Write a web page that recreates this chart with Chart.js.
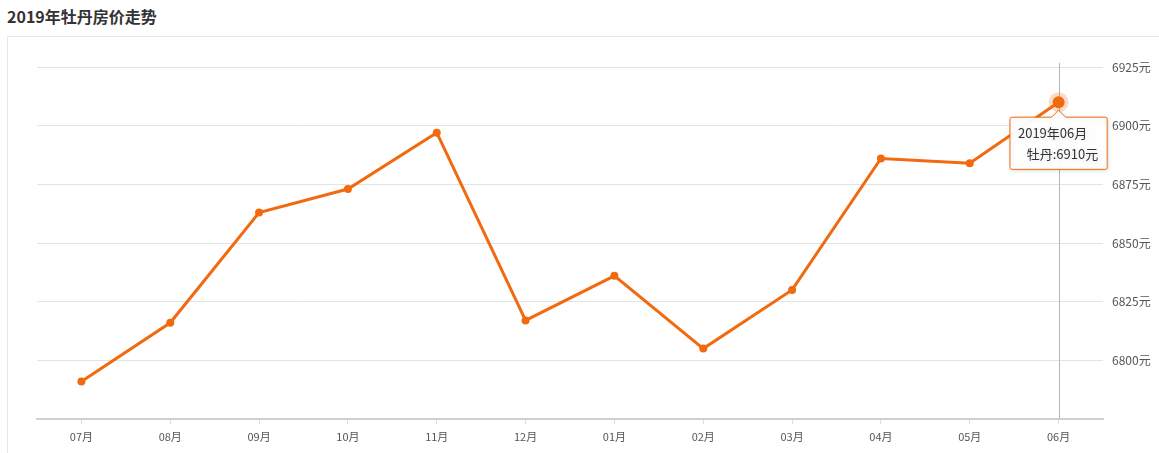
<!DOCTYPE html>
<html>
<head>
<meta charset="utf-8">
<script src="https://cdn.jsdelivr.net/npm/chart.js@4/dist/chart.umd.min.js"></script>
<style>
  html,body{margin:0;padding:0;background:#fff;width:1159px;height:453px;overflow:hidden;}
  #title{position:absolute;left:7px;top:4px;font:bold 16px "Noto Sans CJK SC","Noto Sans",sans-serif;color:#333;}
  #box{position:absolute;left:7px;top:36px;width:1152px;height:417px;border-left:1px solid #e6e6e6;border-top:1px solid #e6e6e6;box-sizing:border-box;}
  #wrap{position:absolute;left:0;top:0;width:1159px;height:453px;}
</style>
</head>
<body>
<div id="title">2019年牡丹房价走势</div>
<div id="box"></div>
<div id="wrap"><canvas id="c" width="1159" height="453"></canvas></div>
<script>
const months = ['07月','08月','09月','10月','11月','12月','01月','02月','03月','04月','05月','06月'];
const fullDates = ['2018年07月','2018年08月','2018年09月','2018年10月','2018年11月','2018年12月','2019年01月','2019年02月','2019年03月','2019年04月','2019年05月','2019年06月'];
const prices = [6791, 6816, 6863, 6873, 6897, 6817, 6836, 6805, 6830, 6886, 6884, 6910];
const seriesName = '牡丹';
const yTicks = [6800, 6825, 6850, 6875, 6900, 6925];

const ORANGE = '#f26a10';
const FONT = '"Noto Sans CJK SC","Noto Sans",sans-serif';
const activeIndex = prices.length - 1;

const overlay = {
  id: 'overlay',
  beforeDatasetsDraw(chart) {
    const meta = chart.getDatasetMeta(0);
    const p = meta.data[activeIndex];
    const ctx = chart.ctx;
    const a = chart.chartArea;
    ctx.save();
    ctx.strokeStyle = '#b5b5b5';
    ctx.lineWidth = 1;
    ctx.beginPath();
    ctx.moveTo(Math.round(p.x) + 0.5, a.top - 4);
    ctx.lineTo(Math.round(p.x) + 0.5, a.bottom);
    ctx.stroke();
    ctx.restore();
  },
  afterDatasetsDraw(chart) {
    const meta = chart.getDatasetMeta(0);
    const p = meta.data[activeIndex];
    const ctx = chart.ctx;
    ctx.save();
    ctx.fillStyle = 'rgba(242,106,16,0.25)';
    ctx.beginPath();
    ctx.arc(p.x, p.y, 10, 0, Math.PI * 2);
    ctx.fill();
    ctx.fillStyle = ORANGE;
    ctx.beginPath();
    ctx.arc(p.x, p.y, 6, 0, Math.PI * 2);
    ctx.fill();
    ctx.restore();
  },
  beforeTooltipDraw(chart) {
    const ctx = chart.ctx;
    ctx.save();
    ctx.shadowColor = 'rgba(0,0,0,0.12)';
    ctx.shadowBlur = 4;
    ctx.shadowOffsetX = 1;
    ctx.shadowOffsetY = 1;
  },
  afterTooltipDraw(chart) {
    chart.ctx.restore();
  }
};

const chart = new Chart(document.getElementById('c'), {
  type: 'line',
  data: {
    labels: months,
    datasets: [{
      label: seriesName,
      data: prices,
      borderColor: ORANGE,
      backgroundColor: ORANGE,
      borderWidth: 3,
      pointRadius: 4,
      pointHoverRadius: 4,
      pointBackgroundColor: ORANGE,
      pointBorderWidth: 0,
      tension: 0
    }]
  },
  options: {
    responsive: false,
    animation: false,
    events: [],
    layout: { padding: { left: 37, top: 67, right: 0, bottom: 0 } },
    plugins: {
      legend: { display: false },
      tooltip: {
        enabled: true,
        backgroundColor: 'rgba(255,255,255,0.96)',
        borderColor: ORANGE,
        borderWidth: 1,
        titleColor: '#333',
        bodyColor: '#333',
        titleFont: { family: FONT, size: 13, weight: 'normal' },
        bodyFont: { family: FONT, size: 13 },
        titleAlign: 'left',
        bodyAlign: 'left',
        titleMarginBottom: 5,
        padding: { left: 8, right: 9, top: 8, bottom: 8 },
        cornerRadius: 2,
        caretSize: 7,
        caretPadding: 8,
        displayColors: false,
        xAlign: 'center',
        yAlign: 'top',
        callbacks: {
          title: (items) => fullDates[items[0].dataIndex],
          label: (item) => '\u00a0\u00a0\u00a0' + seriesName + ':' + item.raw + '元'
        }
      }
    },
    scales: {
      x: {
        offset: true,
        grid: { display: true, drawOnChartArea: false, drawTicks: true, tickLength: 5, color: '#dcdcdc', offset: false },
        border: { display: true, color: '#d0d0d0', width: 2 },
        ticks: { color: '#555', font: { family: FONT, size: 11 }, padding: 6, maxRotation: 0, autoSkip: false },
        afterFit(scale) { scale.height = 34; }
      },
      y: {
        position: 'right',
        min: 6775,
        max: 6925,
        afterBuildTicks(scale) { scale.ticks = [6775].concat(yTicks).map(v => ({ value: v })); },
        grid: { color: (c) => c.tick && c.tick.value === 6775 ? 'rgba(0,0,0,0)' : '#e3e3e3', drawTicks: false, lineWidth: 1 },
        border: { display: false },
        ticks: {
          color: '#555',
          font: { family: FONT, size: 12 },
          padding: 9,
          callback: (v) => v === 6775 ? '' : v + '元'
        },
        afterFit(scale) { scale.width = 56; }
      }
    }
  },
  plugins: [overlay]
});

const pt = chart.getDatasetMeta(0).data[activeIndex];
chart.tooltip.setActiveElements([{ datasetIndex: 0, index: activeIndex }], { x: pt.x, y: pt.y });
chart.update();
</script>
</body>
</html>
